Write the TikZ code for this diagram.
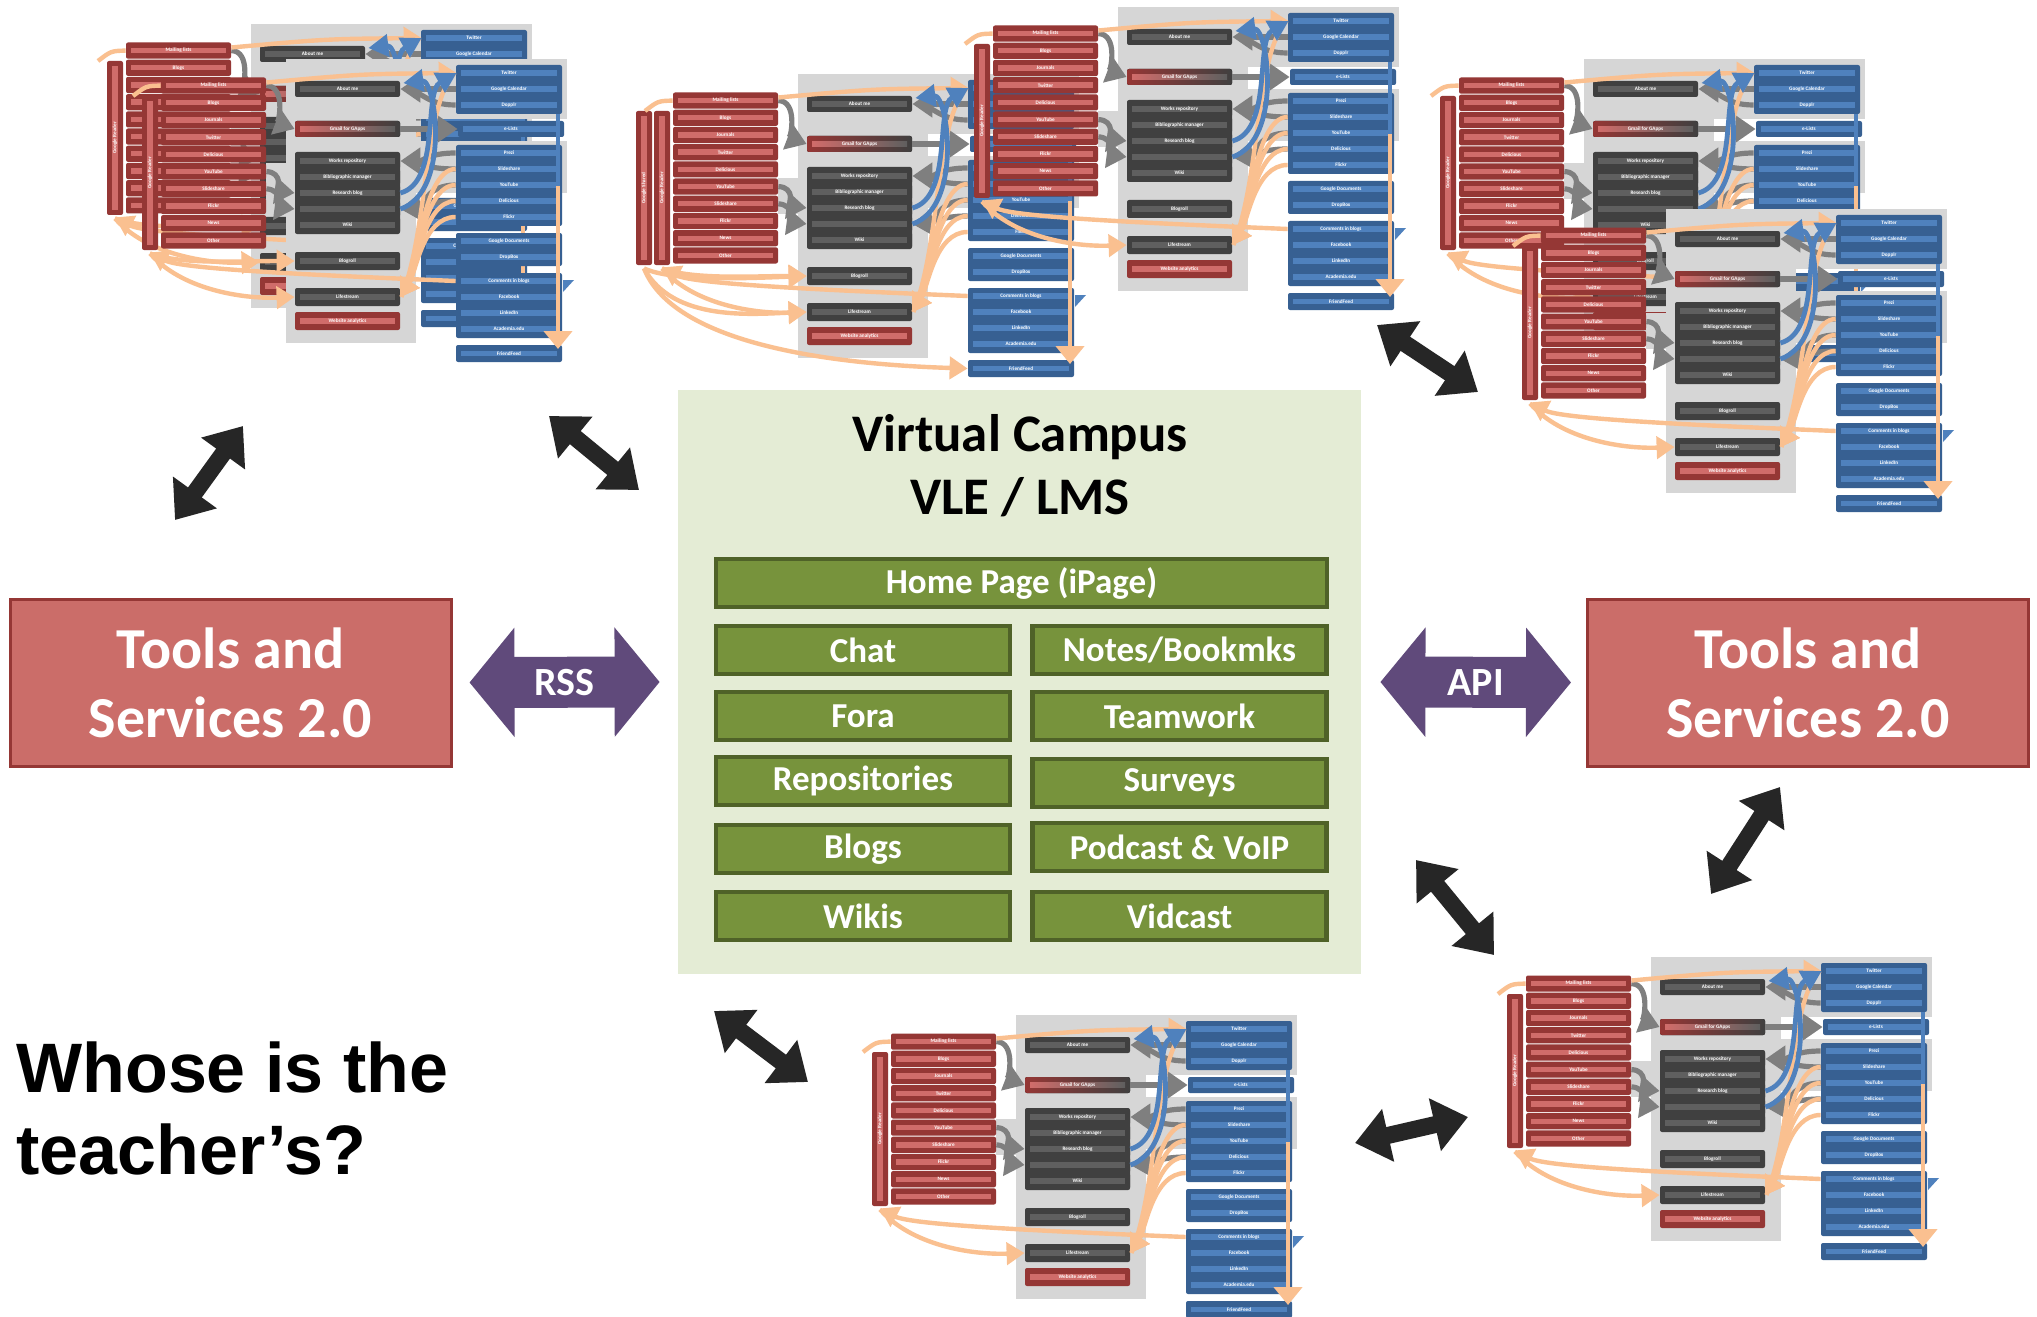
\documentclass[tikz,border=0pt]{standalone}
\usepackage{fontspec}
\setmainfont{Carlito}
\newfontfamily\arialfont{Liberation Sans}
\usetikzlibrary{arrows.meta,calc}

\definecolor{thred}{HTML}{953735}
\definecolor{thredl}{HTML}{D06C6A}
\definecolor{thdark}{HTML}{404040}
\definecolor{thdarkl}{HTML}{5F5F5F}
\definecolor{thblue}{HTML}{376092}
\definecolor{thbluel}{HTML}{4F81BD}
\definecolor{thbg}{HTML}{D6D6D6}
\definecolor{thorange}{HTML}{FAC090}
\definecolor{thgray}{HTML}{7F7F7F}
\definecolor{toolfill}{HTML}{CB6D69}
\definecolor{toolline}{HTML}{953735}
\definecolor{purp}{HTML}{604A7B}
\definecolor{vcbg}{HTML}{E4ECD5}
\definecolor{gfill}{HTML}{77933C}
\definecolor{gline}{HTML}{4F6228}
\definecolor{blk}{HTML}{262626}

\tikzset{
  thtext/.style={font=\bfseries\fontsize{2.6pt}{3pt}\selectfont, text=white, inner sep=0pt, minimum height=2.7pt, minimum width=47.5pt},
  rstripe/.style={thtext, fill=thredl},
  dstripe/.style={thtext, fill=thdarkl},
  bstripe/.style={thtext, fill=thbluel, minimum width=48pt},
  rbox/.style={fill=thred, rounded corners=1pt},
  dbox/.style={fill=thdark, rounded corners=1pt},
  bbox/.style={fill=thblue, rounded corners=1pt},
  orar/.style={draw=thorange, line width=2.2pt, -{Triangle[length=9pt,width=11pt]}},
  orln/.style={draw=thorange, line width=2.2pt},
  grar/.style={draw=thgray, line width=2.6pt, -{Triangle[length=10pt,width=13pt]}},
  grln/.style={draw=thgray, line width=2.6pt},
  blar/.style={draw=thbluel, line width=2.4pt, -{Triangle[length=10pt,width=11pt]}},
  toolbox/.style={draw=toolline, line width=1.5pt, fill=toolfill, minimum width=220.5pt, minimum height=83.5pt, text=white, align=center, font=\bfseries\fontsize{29pt}{34.5pt}\selectfont},
  gbox/.style={fill=gfill, draw=gline, line width=2.4pt, text=white, font=\bfseries\fontsize{17.5pt}{20pt}\selectfont, minimum height=24pt, minimum width=147pt, inner sep=0pt},
  purar/.style={draw=purp, line width=25.5pt, {Triangle[length=22.5pt,width=53.5pt]}-{Triangle[length=22.5pt,width=53.5pt]}},
  purlbl/.style={text=white, font=\bfseries\fontsize{20pt}{22pt}\selectfont},
  blkar/.style={draw=blk, line width=8.5pt, {Triangle[length=17pt,width=26pt]}-{Triangle[length=17pt,width=26pt]}}
}

% #1 prefix, #2 x, #3 y, #4 variant (0 plain, 1 blogroll arrow, 2 google shared)
\newcommand{\thumb}[4]{%
\begin{scope}[shift={(#2,#3)}]
  \fill[thbg] (125,-18) rectangle (255,266);
  \fill[thbg] (255,-18) rectangle (406,42);
  \fill[thbg] (255,64) rectangle (406,116);
  \fill[thbg] (105,86) rectangle (125,122);
  % red column
  \fill[rbox] (-19,19) rectangle (-3,173);
  \node[rstripe, rotate=90, minimum width=72pt, minimum height=3pt] (#1-gr) at (-11,96) {Google Reader};
  \ifnum#4=2
    \fill[rbox] (-37,19) rectangle (-21,173);
    \node[rstripe, rotate=90, minimum width=72pt, minimum height=3pt] (#1-gs) at (-29,96) {Google Shared};
  \fi
  \foreach \lbl [count=\i from 0] in {Mailing lists,Blogs,Journals,Twitter,Delicious,YouTube,Slideshare,Flickr,News,Other} {
    \fill[rbox] (0,{17.2*\i+0.5}) rectangle (105,{17.2*\i+16.7});
    \node[rstripe] (#1-r\i) at (52.5,{17.2*\i+8.6}) {\lbl};
  }
  % dark column
  \fill[dbox] (134,4) rectangle (239,20);
  \node[dstripe] (#1-am) at (186.5,12) {About me};
  \fill[rounded corners=1pt, left color=thred, right color=thdark] (134,44) rectangle (239,60);
  \node[thtext, left color=thredl, right color=thdarkl] (#1-gm) at (186.5,52) {Gmail for GApps};
  \fill[dbox] (134,75) rectangle (239,157);
  \foreach \lbl [count=\i from 0] in {Works repository,Bibliographic manager,Research blog,{},Wiki} {
    \fill[dbox] (134,{76+16*\i}) rectangle (239,{92+16*\i});
    \node[dstripe] (#1-w\i) at (186.5,{84+16*\i}) {\lbl};
  }
  \fill[dbox] (134,175) rectangle (239,193);
  \node[dstripe] (#1-br) at (186.5,184) {Blogroll};
  \fill[dbox] (134,211) rectangle (239,229);
  \node[dstripe] (#1-ls) at (186.5,220) {Lifestream};
  \fill[rbox] (134,235) rectangle (239,253);
  \node[rstripe] (#1-wa) at (186.5,244) {Website analytics};
  % blue column
  \fill[bbox] (295,-12) rectangle (401,37);
  \foreach \lbl [count=\i from 0] in {Twitter,Google Calendar,Dopplr} {
    \node[bstripe] (#1-b\i) at (348,{-4+16*\i}) {\lbl};
  }
  \fill[bbox] (297,44) rectangle (403,60);
  \node[bstripe] (#1-el) at (350,52) {e-Lists};
  \fill[bbox] (295,68) rectangle (401,149);
  \foreach \lbl [count=\i from 0] in {Prezi,Slideshare,YouTube,Delicious,Flickr} {
    \node[bstripe] (#1-p\i) at (348,{76+16*\i}) {\lbl};
  }
  \fill[bbox] (295,156) rectangle (401,189);
  \foreach \lbl [count=\i from 0] in {Google Documents,DropBox} {
    \node[bstripe] (#1-d\i) at (348,{164+16*\i}) {\lbl};
  }
  \fill[bbox] (295,196) rectangle (401,261);
  \foreach \lbl [count=\i from 0] in {Comments in blogs,Facebook,LinkedIn,Academia.edu} {
    \node[bstripe] (#1-c\i) at (348,{204+16*\i}) {\lbl};
  }
  \fill[bbox] (295,268) rectangle (401,285);
  \node[bstripe] (#1-ff) at (348,276.5) {FriendFeed};
  % gray arrows
  \draw[grar] ([xshift=2.5pt]#1-r0.east) .. controls (125,9) and (118,46) .. ([xshift=-2.5pt]#1-gm.west);
  \draw[grar] ([xshift=2.5pt]#1-gm.east) -- ([xshift=-2.5pt]#1-el.west);
  \draw[grar] ([xshift=-2.5pt]#1-b1.west) -- ([xshift=2.5pt]#1-am.east);
  \draw[grln] ([xshift=-2.5pt]#1-b2.west) .. controls (265,28) and (262,14) .. ([xshift=5pt]#1-am.east);
  \draw[grar] ([xshift=-2.5pt]#1-p0.west) .. controls (268,76) and (262,84) .. ([xshift=2.5pt]#1-w0.east);
  \draw[grln] ([xshift=-2.5pt]#1-p1.west) .. controls (265,92) and (262,86) .. ([xshift=5pt]#1-w0.east);
  \draw[grar] ([xshift=-2.5pt]#1-p2.west) .. controls (265,108) and (262,130) .. ([xshift=2.5pt]#1-w3.east);
  \draw[grln] ([xshift=-2.5pt]#1-p3.west) .. controls (265,124) and (262,132) .. ([xshift=5pt]#1-w3.east);
  \draw[grar] ([xshift=2.5pt]#1-r5.east) .. controls (122,95) and (118,114) .. ([xshift=-2.5pt]#1-w2.west);
  \draw[grar] ([xshift=2.5pt]#1-r6.east) .. controls (122,113) and (118,130) .. ([xshift=-2.5pt]#1-w3.west);
  % orange arrows
  \coordinate (#1-e1) at (-28,19);
  \coordinate (#1-v1) at (397,37);
  \coordinate (#1-v2) at (397,109);
  \coordinate (#1-v3) at (397,272);
  \draw[orar] ([xshift=2.5pt]#1-r0.north east) .. controls (200,-3) .. ([xshift=-2pt]#1-b0.west);
  \draw[orln] ([xshift=-2.5pt]#1-r0.west) .. controls (-15,9) .. (#1-e1);
  \draw[orar] ([xshift=-2.5pt]#1-c0.west) .. controls (150,198) and (20,192) .. ([yshift=-3.5pt]#1-gr.west);
  \draw[orar] ([yshift=-4pt]#1-gr.west) .. controls (20,212) and (80,222) .. ([xshift=-2.5pt]#1-ls.west);
  \foreach \k in {1,2,3,4} {
    \draw[orar] ([xshift=-2.5pt]#1-p\k.west) .. controls (262,{76+16*\k}) and (255,195) .. ([xshift=2.5pt]#1-ls.east);
  }
  \draw[orln] ([xshift=3pt]#1-ls.east) .. controls (268,150) and (262,30) .. ([xshift=-3pt]#1-b0.west);
  \draw[draw=thbluel, line width=2pt] (#1-v1) -- (#1-v2);
  \draw[orln, -{Triangle[length=9pt,width=14pt]}] (#1-v2) -- (#1-v3);
  \fill[thbluel] (402,203) -- (413,203) -- (402,215) -- cycle;
  \ifnum#4>0
    \draw[orar] ([yshift=-4pt]#1-gr.west) .. controls (20,188) and (80,184) .. ([xshift=-2.5pt]#1-br.west);
  \fi
  \ifnum#4=2
    \draw[orar] ([yshift=-4pt]#1-gs.west) .. controls (0,190) and (80,186) .. ([xshift=-2.5pt]#1-br.west);
    \draw[orar] ([yshift=-4pt]#1-gs.west) .. controls (0,230) and (80,222) .. ([xshift=-2.5pt]#1-ls.west);
    \draw[orar] ([yshift=-4pt]#1-gs.west) .. controls (0,250) and (150,272) .. ([xshift=-2.5pt]#1-ff.west);
  \fi
  % blue arrows
  \draw[blar] ([xshift=2.5pt]#1-w2.east) .. controls (280,105) and (262,15) .. ([xshift=-2pt]#1-b0.west);
  \draw[blar] ([xshift=2.5pt]#1-w3.east) .. controls (290,115) and (275,2) .. ([xshift=4pt,yshift=3pt]#1-am.east);
\end{scope}%
}

\begin{document}
\begin{tikzpicture}[x=0.5pt,y=-0.5pt]
  \fill[white] (0,0) rectangle (2037,1316);
  \useasboundingbox (0,0) rectangle (2037,1316);

  % thumbnails
  \thumb{g}{126}{42}{1}
  \thumb{h}{161}{77}{1}
  \thumb{f}{673}{92}{2}
  \thumb{e}{993}{25}{0}
  \thumb{d}{1459}{77}{0}
  \thumb{c}{1541}{227}{0}
  \thumb{a}{891}{1033}{0}
  \thumb{b}{1526}{975}{0}

  % main boxes
  \node[toolbox] (tl) at (230.5,682.5) {Tools and\\Services 2.0};
  \node[toolbox] (tr) at (1808,682.5) {Tools and\\Services 2.0};
  \node[fill=vcbg, minimum width=341.5pt, minimum height=292pt, inner sep=0pt] (vc) at (1019.5,682) {};
  \node[font=\bfseries\fontsize{26.4pt}{31.5pt}\selectfont, align=center] (vct) at (1020,466) {Virtual Campus\\VLE / LMS};

  \node[gbox, minimum width=305.5pt] (home) at (1021.5,583) {Home Page (iPage)};
  \node[gbox] (chat) at (863,650) {Chat};
  \node[gbox] (notes) at (1179.5,650) {Notes/Bookmks};
  \node[gbox] (fora) at (863,716) {Fora};
  \node[gbox] (team) at (1179.5,716) {Teamwork};
  \node[gbox] (repo) at (863,781) {Repositories};
  \node[gbox] (surv) at (1179.5,783) {Surveys};
  \node[gbox] (blogs) at (863,849) {Blogs};
  \node[gbox] (pod) at (1179.5,847) {Podcast \& VoIP};
  \node[gbox] (wikis) at (863,916) {Wikis};
  \node[gbox] (vid) at (1179.5,916) {Vidcast};

  % RSS / API
  \draw[purar] ([xshift=8.5pt]tl.east) -- node[purlbl] (rsslbl) {RSS} ([xshift=-9pt]vc.west);
  \draw[purar] ([xshift=9.5pt]vc.east) -- node[purlbl] (apilbl) {API} ([xshift=-7.5pt]tr.west);

  % question
  \node[anchor=west, font=\arialfont\bfseries\fontsize{35pt}{41pt}\selectfont, align=left, inner sep=0pt] (whose) at (16,1108) {Whose is the\\teacher’s?};

  % black double arrows
  \coordinate (k1s) at (175,520);  \coordinate (k1e) at (243,426);
  \coordinate (k2s) at (549,416);  \coordinate (k2e) at (639,490);
  \coordinate (k3s) at (1377,325); \coordinate (k3e) at (1478,392);
  \coordinate (k4s) at (1711,894); \coordinate (k4e) at (1780,787);
  \coordinate (k5s) at (1416,860); \coordinate (k5e) at (1494,955);
  \coordinate (k6s) at (1355,1143); \coordinate (k6e) at (1468,1117);
  \coordinate (k7s) at (714,1011); \coordinate (k7e) at (808,1082);
  \foreach \n in {1,...,7} { \draw[blkar] (k\n s) -- (k\n e); }
\end{tikzpicture}
\end{document}
